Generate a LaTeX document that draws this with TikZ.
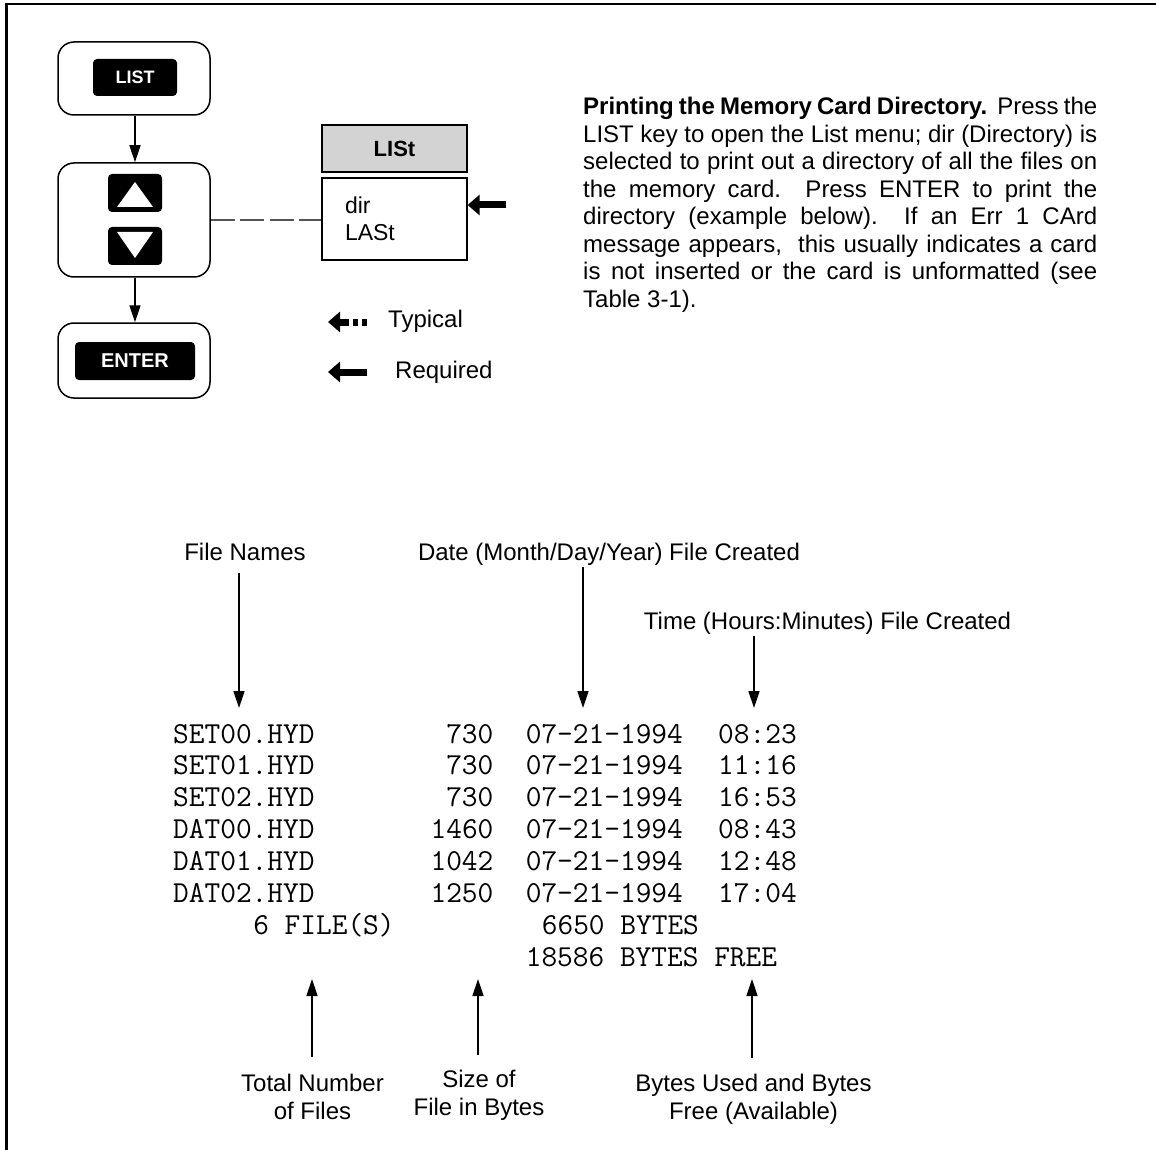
\documentclass[tikz,border=0pt]{standalone}
\usepackage{fontspec}
\setmainfont{Liberation Sans}
\usepackage{tikz}
\usetikzlibrary{arrows.meta,positioning,calc}
\definecolor{lcdgray}{HTML}{D3D3D3}
\definecolor{leadgray}{HTML}{555555}
\newcommand{\lblsize}{\fontsize{24}{28}\selectfont}
\newcommand{\monosize}{\fontsize{30.5}{32}\selectfont}
\tikzset{
  keybox/.style={draw, line width=1.5pt, rounded corners=16pt, minimum width=152pt, inner sep=0pt},
  keycap/.style={fill=black, text=white, rounded corners=4pt, inner sep=0pt, font=\bfseries},
  menuhead/.style={draw, line width=1.3pt, fill=lcdgray, minimum width=145pt, minimum height=47pt, inner sep=0pt, font=\fontsize{22}{26}\selectfont\bfseries},
  menubox/.style={draw, line width=1.3pt, fill=white, text width=99pt, inner xsep=23pt, inner ysep=0pt, minimum height=82pt, align=left, font=\fontsize{23}{27}\selectfont},
  lbl/.style={inner sep=0pt, align=center, font=\lblsize},
  mono/.style={inner sep=0pt, font=\ttfamily\monosize},
  arr/.style={-{Triangle[length=17pt,width=11pt]}, line width=1.5pt},
  fat/.style={-{Triangle[length=12pt,width=20pt]}, line width=7pt},
  lead/.style={leadgray, line width=1.5pt, dash pattern=on 24pt off 5.5pt},
}
\begin{document}
\begin{tikzpicture}[x=1pt, y=-1pt, font=\lblsize]
  \useasboundingbox (0,0) rectangle (1156,1150);
  \draw[line width=2.2pt] (6.5,1150) -- (6.5,4) -- (1156,4);
  \node[keybox, minimum height=73pt] (kList) at (134,78.5) {};
  \node[keycap, minimum width=84pt, minimum height=37pt, font=\fontsize{18}{20}\selectfont\bfseries] (capList) at (135,77.5) {LIST};
  \node[keybox, minimum height=114pt] (kArrows) at (134,220) {};
  \node[keycap, minimum width=54pt, minimum height=38pt] (capUp) at (135,193) {};
  \node[keycap, minimum width=54pt, minimum height=38pt] (capDown) at (135,246) {};
  \fill[white] (capUp.center) ++(0,-11) -- ++(18,25) -- ++(-36,0) -- cycle;
  \fill[white] (capDown.center) ++(0,12) -- ++(18,-26) -- ++(-36,0) -- cycle;
  \node[keybox, minimum height=75pt] (kEnter) at (134,360.5) {};
  \node[keycap, minimum width=120pt, minimum height=38pt, font=\fontsize{20}{24}\selectfont\bfseries] (capEnter) at (135,361) {ENTER};
  \draw[arr] (kList.south -| capList) -- (kArrows.north -| capList);
  \draw[arr] (kArrows.south -| capList) -- (kEnter.north -| capList);

  \node[menuhead] (lcdHead) at (394.5,148.5) {LISt};
  \node[menubox] (lcdMenu) at (394.5,219) {dir\\LASt};
  \draw[lead] (kArrows.east) -- (kArrows.east -| lcdMenu.west);
  \coordinate (reqFrom) at (506,205);
  \draw[fat] (reqFrom) -- (reqFrom -| lcdMenu.east);

  \coordinate (typFrom) at (367,322);
  \draw[fat, dash pattern=on 5pt off 4pt on 5pt off 4pt on 40pt] (typFrom) -- ++(-39,0);
  \node[lbl, anchor=base west] (typLbl) at (388,327) {Typical};
  \coordinate (reqLeg) at (367,372);
  \draw[fat] (reqLeg) -- ++(-39,0);
  \node[lbl, anchor=base west] (reqLbl) at (395,378) {Required};

  \node[anchor=north west, text width=514pt, inner sep=0pt, align=justify, font=\fontsize{24}{27.5}\selectfont] (note) at (583,97) {\textbf{Printing the Memory Card Directory.}\ \ Press the\linebreak LIST key to open the List menu; dir (Directory) is\linebreak selected to print out a directory of all the files on\linebreak the memory card.\ \ Press ENTER to print the\linebreak directory (example below).\ \ If an Err 1 CArd\linebreak message appears,\ \ this usually indicates a card\linebreak is not inserted or the card is unformatted (see\linebreak Table 3-1).};

  \node[lbl, anchor=base] (fnames) at (245,560) {File Names};
  \node[lbl, anchor=base] (dates) at (609,560) {Date (Month/Day/Year) File Created};
  \node[lbl, anchor=base] (times) at (827.5,629) {Time (Hours:Minutes) File Created};
  \coordinate (fnTip) at (239,708);
  \coordinate (dtTip) at (583,708);
  \coordinate (tmTip) at (754,708);
  \draw[arr, shorten <=13pt] (fnames.base -| fnTip) -- (fnTip);
  \draw[arr, shorten <=7pt] (dates.base -| dtTip) -- (dtTip);
  \draw[arr, shorten <=7pt] (times.base -| tmTip) -- (tmTip);

  \foreach \fn/\fs/\ft [count=\r] in {SET00.HYD/730/08:23, SET01.HYD/730/11:16, SET02.HYD/730/16:53, DAT00.HYD/1460/08:43, DAT01.HYD/1042/12:48, DAT02.HYD/1250/17:04}{
    \node[mono, anchor=base west] (name\r) at (173,{743+31.85*(\r-1)}) {\fn};
    \node[mono, anchor=base east] (size\r) at (493.6,{743+31.85*(\r-1)}) {\fs};
    \node[mono, anchor=base west] (date\r) at (525.6,{743+31.85*(\r-1)}) {07-21-1994};
    \node[mono, anchor=base west] (time\r) at (718,{743+31.85*(\r-1)}) {\ft};
  }
  \node[mono, anchor=base west] (files) at (253.1,934.1) {6 FILE(S)};
  \node[mono, anchor=base west] (used) at (541.7,934.1) {6650 BYTES};
  \node[mono, anchor=base west] (free) at (525.6,966) {18586 BYTES FREE};

  \node[lbl, anchor=north] (totLbl) at (312.5,1073.4) {Total Number\\of Files};
  \node[lbl, anchor=north] (sizeLbl) at (479,1069.4) {Size of\\File in Bytes};
  \node[lbl, anchor=north] (bytesLbl) at (753.5,1073.4) {Bytes Used and Bytes\\Free (Available)};
  \coordinate (totTip) at (312,979);
  \coordinate (sizeTip) at (478,979);
  \coordinate (bytesTip) at (752,979);
  \draw[arr, shorten <=16pt] (totLbl.north -| totTip) -- (totTip);
  \draw[arr, shorten <=14pt] (sizeLbl.north -| sizeTip) -- (sizeTip);
  \draw[arr, shorten <=15pt] (bytesLbl.north -| bytesTip) -- (bytesTip);
\end{tikzpicture}
\end{document}
